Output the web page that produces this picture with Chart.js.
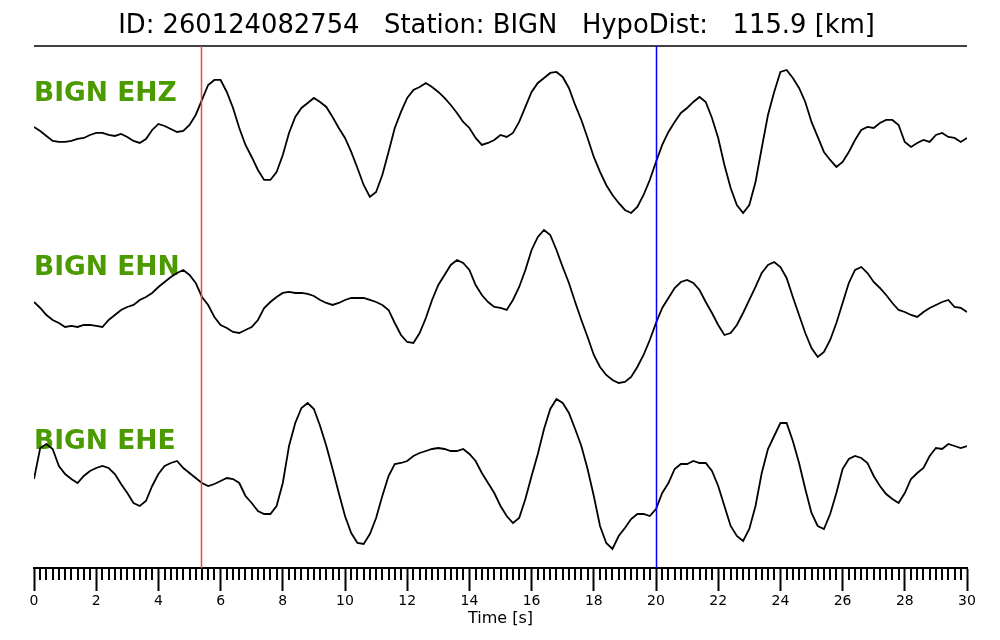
<!DOCTYPE html>
<html>
<head>
<meta charset="utf-8">
<script src="https://cdn.jsdelivr.net/npm/chart.js@4"></script>
<style>
  body { margin: 0; background: #fff; }
  #wrap { width: 1000px; height: 640px; }
</style>
</head>
<body>
<div id="wrap"><canvas id="seisChart" width="1000" height="640"></canvas></div>
<script>
const titleText = 'ID: 260124082754   Station: BIGN   HypoDist:   115.9 [km]';
const channels = ['BIGN EHZ', 'BIGN EHN', 'BIGN EHE'];
const pPick = 5.36;   // s, red
const sPick = 20.0;   // s, blue

// sample times every 0.2 s, 0..30 s
const sampleStep = 0.2;
const timeSec = Array.from({ length: 151 }, (_, i) => +(i * sampleStep).toFixed(1));

// amplitudes (arbitrary units), 10 samples = 2 s per row
const ehz = [
  6, 2, -3, -8, -9, -9, -8, -6, -5, -2,
  0, 0, -2, -3, -1, -4, -8, -10, -6, 3,
  9, 7, 4, 1, 2, 8, 18, 33, 48, 53,
  53, 41, 25, 5, -12, -24, -37, -47, -47, -39,
  -22, 0, 16, 25, 30, 35, 31, 26, 16, 5,
  -5, -19, -35, -52, -64, -59, -42, -19, 5, 21,
  35, 43, 46, 50, 46, 41, 35, 28, 20, 11,
  5, -5, -12, -10, -7, -2, -4, 0, 11, 26,
  41, 50, 55, 60, 61, 56, 45, 28, 13, -5,
  -24, -39, -52, -62, -70, -77, -80, -74, -62, -47,
  -29, -12, 1, 11, 20, 25, 31, 36, 31, 15,
  -5, -32, -55, -72, -80, -72, -49, -15, 18, 41,
  61, 63, 55, 45, 31, 11, -4, -19, -27, -34,
  -29, -19, -7, 3, 6, 5, 10, 13, 13, 8,
  -9, -14, -10, -7, -9, -2, 0, -4, -5, -9,
  -5
];
const ehn = [
  5, -1, -8, -13, -16, -20, -19, -20, -18, -18,
  -19, -20, -13, -8, -3, 0, 2, 7, 10, 14,
  20, 25, 30, 34, 37, 32, 24, 10, 2, -10,
  -18, -21, -25, -26, -23, -20, -13, -1, 5, 10,
  14, 15, 14, 14, 13, 11, 7, 4, 2, 4,
  7, 9, 9, 9, 7, 5, 2, -3, -16, -28,
  -35, -36, -26, -11, 7, 22, 32, 42, 47, 44,
  37, 22, 12, 5, 0, -1, -3, 7, 20, 37,
  57, 70, 77, 72, 57, 40, 24, 5, -13, -30,
  -48, -60, -68, -73, -76, -75, -70, -60, -48, -33,
  -16, -1, 9, 19, 25, 27, 24, 17, 5, -6,
  -18, -28, -26, -18, -6, 7, 20, 34, 42, 45,
  40, 29, 10, -8, -26, -41, -50, -45, -33, -16,
  4, 24, 37, 40, 34, 25, 19, 12, 4, -3,
  -5, -8, -10, -5, -1, 2, 5, 7, 0, -1,
  -5
];
const ehe = [
  2, 33, 37, 32, 15, 7, 2, -2, 5, 10,
  13, 15, 13, 7, -3, -12, -22, -25, -20, -5,
  7, 15, 18, 20, 13, 8, 3, -2, -5, -3,
  0, 3, 2, -2, -15, -22, -30, -33, -33, -25,
  -2, 35, 58, 73, 78, 72, 55, 35, 12, -12,
  -35, -52, -62, -63, -53, -37, -15, 5, 17, 18,
  20, 25, 28, 30, 32, 33, 32, 30, 30, 32,
  27, 20, 8, -2, -12, -25, -35, -42, -37, -18,
  5, 27, 52, 72, 82, 78, 68, 52, 35, 12,
  -15, -45, -62, -68, -55, -47, -38, -33, -33, -35,
  -28, -12, -2, 12, 17, 17, 20, 18, 18, 10,
  -5, -25, -45, -55, -60, -48, -25, 8, 32, 45,
  58, 58, 40, 18, -8, -32, -45, -48, -33, -12,
  12, 22, 25, 23, 18, 5, -5, -13, -18, -22,
  -12, 2, 8, 13, 25, 33, 32, 37, 35, 33,
  35
];

const traceAxes = ['yEHZ', 'yEHN', 'yEHE'];
const traces = [ehz, ehn, ehe];

function isMajor(v) {
  return Math.abs(v / 2 - Math.round(v / 2)) < 1e-6;
}

const seisDecor = {
  id: 'seisDecor',
  beforeDatasetsDraw(chart) {
    const ctx = chart.ctx;
    ctx.save();
    ctx.font = 'bold 26.5px "DejaVu Sans"';
    ctx.fillStyle = '#4a9a00';
    ctx.textBaseline = 'alphabetic';
    traceAxes.forEach((id, i) => {
      const s = chart.scales[id];
      ctx.fillText(channels[i], chart.chartArea.left, s.top + 55);
    });
    ctx.restore();
  },
  afterDatasetsDraw(chart) {
    const { ctx, chartArea: a } = chart;
    const x = chart.scales.x;
    ctx.save();
    // line under the title
    ctx.strokeStyle = '#000';
    ctx.lineWidth = 1.5;
    ctx.beginPath();
    ctx.moveTo(a.left, a.top);
    ctx.lineTo(a.right, a.top);
    ctx.stroke();
    // phase picks
    [[pPick, '#ff4040'], [sPick, '#0000ff']].forEach(([t, c]) => {
      const px = Math.round(x.getPixelForValue(t)) + 0.5;
      ctx.strokeStyle = c;
      ctx.lineWidth = 1.5;
      ctx.beginPath();
      ctx.moveTo(px, a.top);
      ctx.lineTo(px, a.bottom);
      ctx.stroke();
    });
    // minor ticks
    ctx.strokeStyle = '#000';
    ctx.lineWidth = 2;
    x.ticks.forEach(tk => {
      if (isMajor(tk.value)) return;
      const px = Math.round(x.getPixelForValue(tk.value));
      ctx.beginPath();
      ctx.moveTo(px, a.bottom);
      ctx.lineTo(px, a.bottom + 12);
      ctx.stroke();
    });
    ctx.restore();
  }
};

function traceAxis() {
  return {
    type: 'linear',
    position: 'left',
    stack: 'traces',
    stackWeight: 1,
    min: -87,
    max: 87,
    ticks: { display: false },
    grid: { display: false },
    border: { display: false }
  };
}

const ctx = document.getElementById('seisChart').getContext('2d');
const chart = new Chart(ctx, {
  type: 'line',
  data: {
    datasets: traces.map((vals, i) => ({
      label: channels[i],
      data: timeSec.map((t, j) => ({ x: t, y: vals[j] })),
      yAxisID: traceAxes[i],
      borderColor: '#000',
      borderWidth: 1.8,
      pointRadius: 0,
      tension: 0,
      fill: false
    }))
  },
  options: {
    responsive: false,
    animation: false,
    layout: { padding: { left: 26, right: 33, top: 0, bottom: 13 } },
    plugins: {
      legend: { display: false },
      tooltip: { enabled: false },
      title: {
        display: true,
        text: titleText,
        color: '#000',
        font: { family: 'DejaVu Sans', size: 25.8, weight: 'normal' },
        padding: { top: 11, bottom: 4 }
      }
    },
    scales: {
      x: {
        type: 'linear',
        position: 'bottom',
        min: 0,
        max: 30,
        border: { display: true, color: '#000', width: 2 },
        grid: {
          drawOnChartArea: false,
          drawTicks: true,
          tickLength: 23,
          tickWidth: 2,
          tickColor: c => (c.tick && isMajor(c.tick.value)) ? '#000' : 'rgba(0,0,0,0)'
        },
        ticks: {
          stepSize: 0.2,
          autoSkip: false,
          maxRotation: 0,
          padding: 3,
          color: '#000',
          font: { family: 'DejaVu Sans', size: 14, lineHeight: 1 },
          callback: v => isMajor(v) ? String(Math.round(v)) : ''
        },
        title: {
          display: true,
          text: 'Time [s]',
          color: '#000',
          font: { family: 'DejaVu Sans', size: 16, lineHeight: 1 },
          padding: { top: 0, bottom: 0 }
        }
      },
      // stacked left axes are laid out bottom-first, so EHE comes first
      yEHE: traceAxis(),
      yEHN: traceAxis(),
      yEHZ: traceAxis()
    }
  },
  plugins: [seisDecor]
});
</script>
</body>
</html>
